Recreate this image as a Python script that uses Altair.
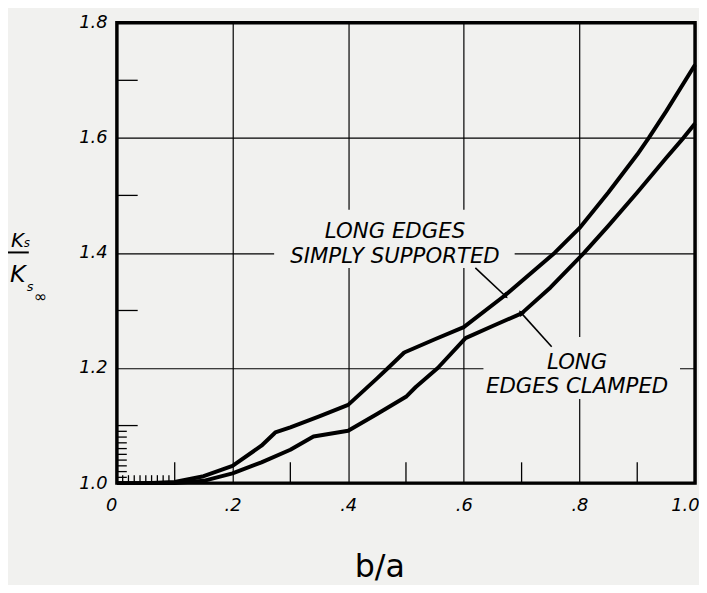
import altair as alt
import pandas as pd

# ---- data ----
ba_simply = [0.00, 0.05, 0.10, 0.15, 0.20, 0.25, 0.274, 0.30, 0.35, 0.40, 0.45, 0.469,
             0.497, 0.55, 0.60, 0.671, 0.757, 0.80, 0.85, 0.90, 0.92, 0.95, 1.00]
k_simply = [1.000, 1.000, 1.002, 1.012, 1.030, 1.065, 1.088, 1.097, 1.116, 1.136, 1.182, 1.200,
            1.227, 1.250, 1.271, 1.326, 1.400, 1.443, 1.505, 1.571, 1.600, 1.646, 1.727]

ba_clamped = [0.00, 0.10, 0.15, 0.20, 0.25, 0.30, 0.34, 0.40, 0.45, 0.50, 0.517, 0.555,
              0.603, 0.65, 0.70, 0.75, 0.808, 0.85, 0.90, 0.95, 0.98, 1.00]
k_clamped = [1.000, 1.000, 1.004, 1.017, 1.036, 1.058, 1.081, 1.091, 1.120, 1.150, 1.167, 1.200,
             1.252, 1.273, 1.295, 1.340, 1.400, 1.447, 1.505, 1.565, 1.600, 1.625]

x_tick_values = [0.0, 0.2, 0.4, 0.6, 0.8, 1.0]
x_tick_labels = ["0", ".2", ".4", ".6", ".8", "1.0"]
y_tick_values = [1.0, 1.2, 1.4, 1.6, 1.8]
y_tick_labels = ["1.0", "1.2", "1.4", "1.6", "1.8"]
x_minor_ticks = [0.1, 0.3, 0.5, 0.7, 0.9]
y_minor_ticks = [1.1, 1.3, 1.5, 1.7]
x_fine_ticks = [0.01, 0.02, 0.03, 0.04, 0.05, 0.06, 0.07, 0.08, 0.09]
y_fine_ticks = [1.01, 1.02, 1.03, 1.04, 1.05, 1.06, 1.07, 1.08, 1.09]

label_simply = ["LONG EDGES", "SIMPLY SUPPORTED"]
label_clamped = ["LONG", "EDGES CLAMPED"]

# ---- styling ----
W, H = 584, 465
BG = "#f1f1ef"
FONT = "DejaVu Sans"


def label_expr(values, labels):
    expr = "''"
    for v, l in reversed(list(zip(values, labels))):
        expr = f"abs(datum.value - {v}) < 1e-6 ? '{l}' : ({expr})"
    return expr


x_scale = alt.Scale(domain=[0, 1], nice=False, zero=False)
y_scale = alt.Scale(domain=[1.0, 1.8], nice=False, zero=False)

x_axis = alt.Axis(values=x_tick_values, labelExpr=label_expr(x_tick_values, x_tick_labels),
                  grid=True, gridColor="black", gridWidth=1.2, gridOpacity=1,
                  domain=False, ticks=False, labelFont=FONT, labelFontSize=18,
                  labelFontStyle="italic", labelColor="black", labelPadding=14,
                  labelFlush=False,
                  labelAlign={"condition": {"test": "datum.value == 0 || datum.value >= 1",
                                            "value": "right"}, "value": "center"},
                  labelOffset={"condition": {"test": "datum.value >= 1", "value": 4},
                               "value": 0},
                  title="b/a", titleFont=FONT, titleFontSize=32, titleFontWeight="normal",
                  titleColor="black", titleX=265, titleY=94, titleBaseline="alphabetic")
y_axis = alt.Axis(values=y_tick_values, labelExpr=label_expr(y_tick_values, y_tick_labels),
                  grid=True, gridColor="black", gridWidth=1.2, gridOpacity=1,
                  domain=False, ticks=False, labelFont=FONT, labelFontSize=18,
                  labelFontStyle="italic", labelColor="black", labelPadding=10, title=None)

curves_df = pd.DataFrame({
    "ba": ba_simply + ba_clamped,
    "k": k_simply + k_clamped,
    "edge": ["Simply supported"] * len(ba_simply) + ["Clamped"] * len(ba_clamped),
})

# masks that break the grid lines behind the labels (this layer also carries the axes)
mask_df = pd.DataFrame({"x1": [0.272, 0.634], "x2": [0.688, 0.974],
                        "y1": [1.374, 1.146], "y2": [1.475, 1.254]})
masks = alt.Chart(mask_df).mark_rect(color=BG).encode(
    x=alt.X("x1:Q", scale=x_scale, axis=x_axis), x2="x2:Q",
    y=alt.Y("y1:Q", scale=y_scale, axis=y_axis), y2="y2:Q")

curves = alt.Chart(curves_df).mark_line(color="black", strokeWidth=4, strokeJoin="round").encode(
    x=alt.X("ba:Q", scale=x_scale, title="b/a"),
    y=alt.Y("k:Q", scale=y_scale, title=None),
    detail="edge:N")


def xticks(vals, length):
    return alt.Chart(pd.DataFrame({"v": vals})).mark_rule(color="black", strokeWidth=1.3).encode(
        x=alt.X("v:Q", scale=x_scale, title="b/a"), y=alt.value(H), y2=alt.value(H - length))


def yticks(vals, length):
    return alt.Chart(pd.DataFrame({"v": vals})).mark_rule(color="black", strokeWidth=1.3).encode(
        y=alt.Y("v:Q", scale=y_scale, title=None), x=alt.value(0), x2=alt.value(length))


ticks = [xticks(x_minor_ticks, 21), xticks(x_fine_ticks, 8),
         yticks(y_minor_ticks, 21), yticks(y_fine_ticks, 10)]

# leader lines
leader_df = pd.DataFrame({"x1": [0.620, 0.752], "y1": [1.374, 1.237],
                          "x2": [0.671, 0.700], "y2": [1.326, 1.295], "ang": [133, 319]})
leaders = alt.Chart(leader_df).mark_rule(color="black", strokeWidth=1.6).encode(
    x=alt.X("x1:Q", scale=x_scale, title="b/a"), x2="x2:Q",
    y=alt.Y("y1:Q", scale=y_scale, title=None), y2="y2:Q")
arrows = alt.Chart(leader_df).mark_point(shape="triangle", filled=True, color="black",
                                         size=45, opacity=1).encode(
    x=alt.X("x2:Q", scale=x_scale, title="b/a"),
    y=alt.Y("y2:Q", scale=y_scale, title=None),
    angle=alt.Angle("ang:Q", scale=None))

ann_df = pd.DataFrame({
    "x": [0.481, 0.481, 0.796, 0.796],
    "y": [1.4255, 1.3825, 1.199, 1.156],
    "t": label_simply + label_clamped,
})
ann = alt.Chart(ann_df).mark_text(font=FONT, fontSize=21.5, fontStyle="italic", color="black",
                                  align="center", baseline="alphabetic").encode(
    x=alt.X("x:Q", scale=x_scale, title="b/a"),
    y=alt.Y("y:Q", scale=y_scale, title=None),
    text="t:N")


def ptext(t, px, py, size):
    return alt.Chart(pd.DataFrame({"t": [t]})).mark_text(
        font=FONT, fontSize=size, fontStyle="italic", color="black",
        align="left", baseline="alphabetic").encode(
        text="t:N", x=alt.value(px), y=alt.value(py))


ytitle = [
    ptext("K", -107, 227, 20), ptext("s", -94, 227, 12),
    alt.Chart(pd.DataFrame({"a": [0]})).mark_rule(color="black", strokeWidth=2).encode(
        x=alt.value(-111), x2=alt.value(-89), y=alt.value(232)),
    ptext("K", -108, 262, 24), ptext("s", -91, 271, 13), ptext("\u221e", -84, 282, 16),
]

chart = alt.layer(masks, curves, *ticks, leaders, arrows, ann, *ytitle).properties(
    width=W, height=H, background=BG, autosize="none",
    padding={"left": 110, "top": 12, "right": 4, "bottom": 100},
).configure_view(stroke="black", strokeWidth=3.5)

chart.save("out.html", embed_options={"renderer": "svg", "actions": False})
